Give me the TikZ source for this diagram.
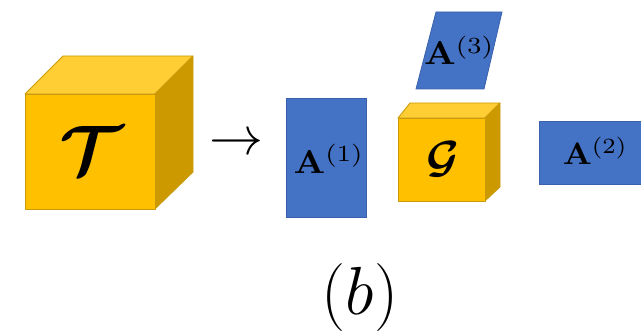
\RequirePackage{fix-cm}
\documentclass[tikz,border=0pt]{standalone}
\usepackage{amsmath,amssymb,graphicx}
\definecolor{cubefront}{HTML}{FFC000}
\definecolor{cubetop}{HTML}{FFCD34}
\definecolor{cubeside}{HTML}{CC9A00}
\definecolor{cubeline}{HTML}{C99A0A}
\definecolor{matblue}{HTML}{4472C4}
\definecolor{matline}{HTML}{3A62AC}
\tikzset{
  front/.style={fill=cubefront,draw=cubeline,line width=0.8pt,line join=round},
  top/.style={fill=cubetop,draw=cubeline,line width=0.8pt,line join=round},
  side/.style={fill=cubeside,draw=cubeline,line width=0.8pt,line join=round},
  matbox/.style={fill=matblue,draw=matline,line width=0.8pt,inner sep=0pt},
  lab/.style={inner sep=0pt,anchor=base},
}
\begin{document}
\begin{tikzpicture}[x=1pt,y=-1pt]
\useasboundingbox (0,0) rectangle (641,331);
\clip (0,0) rectangle (641,331);
% big cube
\path[top] (25,94) -- (63,56) -- (193,56) -- (155,94) -- cycle;
\path[side] (155,94) -- (193,56) -- (193,172) -- (155,209) -- cycle;
\path[front] (25,94) rectangle (155,209);
\node[lab] (T) at (91,175) {\fontsize{70}{80}\selectfont$\boldsymbol{\mathcal{T}}$};
% arrow glyph
\node[lab] (arr) at (236,155) {\fontsize{54}{60}\selectfont$\rightarrow$};
% A1
\node[matbox,minimum width=80,minimum height=119] (A1box) at (326,157.5) {};
\node[lab] (A1) at (329,173.3) {\scalebox{3.65}[3.3]{$\mathbf{A}^{(1)}$}};
% A3 parallelogram
\path[fill=matblue,draw=matline,line width=0.8pt] (436,12) -- (502,12) -- (484,89) -- (416,89) -- cycle;
\node[lab] (A3) at (459.5,65) {\scalebox{3.65}[3.3]{$\mathbf{A}^{(3)}$}};
% small cube
\path[top] (398,118) -- (410,103) -- (500,103) -- (485,118) -- cycle;
\path[side] (485,118) -- (500,103) -- (500,187) -- (485,201) -- cycle;
\path[front] (398,118) rectangle (485,201);
\node[lab] (G) at (443,172.5) {\fontsize{45}{54}\selectfont$\boldsymbol{\mathcal{G}}$};
% A2
\node[matbox,minimum width=114,minimum height=63] (A2box) at (596,152.5) {};
\node[lab] (A2) at (595.4,164.7) {\scalebox{3.35}[3.1]{$\mathbf{A}^{(2)}$}};
% caption
\node[lab] (cap) at (360,315) {\fontsize{68}{80}\selectfont$(b)$};
\end{tikzpicture}
\end{document}
